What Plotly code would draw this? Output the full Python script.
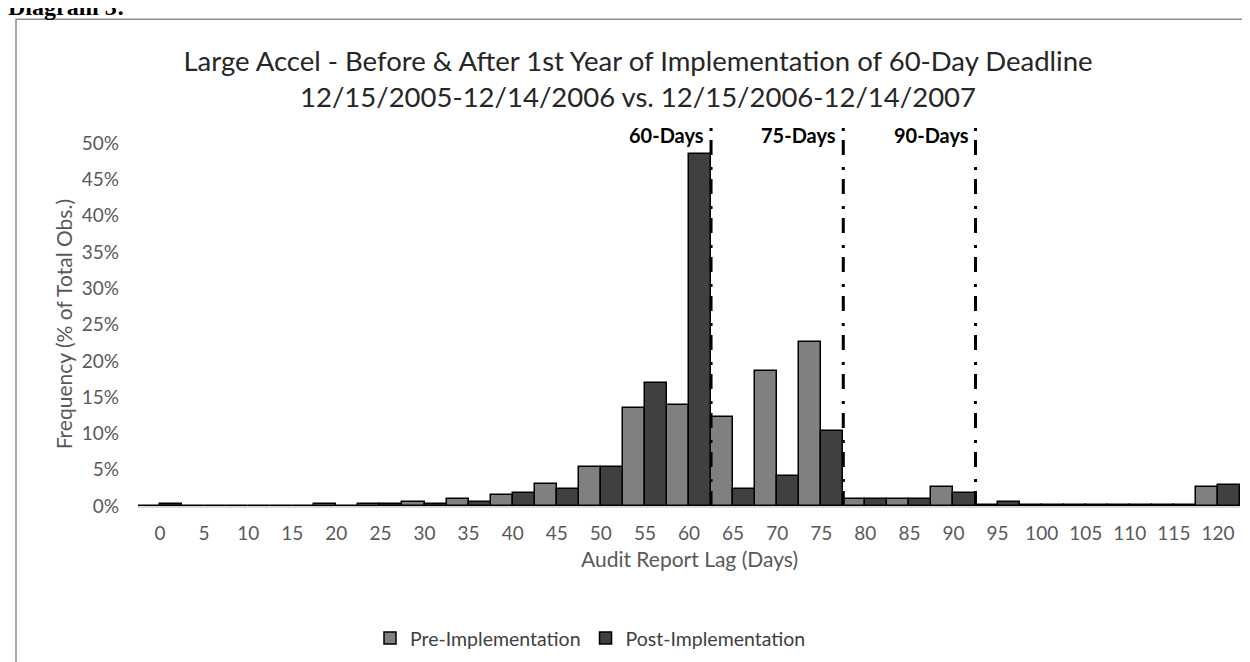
import plotly.graph_objects as go

days = list(range(0, 125, 5))
tick_labels = [str(d) for d in days]
pre = [0, 0, 0, 0, 0.3, 0.3, 0.5, 1.0, 1.5, 3.1, 5.4, 13.5, 13.9, 12.2, 18.6, 22.6,
       1.0, 1.0, 2.6, 0.2, 0.2, 0.2, 0.2, 0.2, 2.6]
post = [0.3, 0, 0, 0, 0, 0.3, 0.3, 0.5, 1.8, 2.3, 5.4, 16.9, 48.5, 2.3, 4.2, 10.4,
        1.0, 1.0, 1.8, 0.5, 0.2, 0.2, 0.2, 0.2, 2.9]
deadlines = [62.5, 77.5, 92.5]
deadline_labels = ["60-Days", "75-Days", "90-Days"]
y_ticks = list(range(0, 55, 5))
y_tick_labels = ["%d%%" % v for v in y_ticks]

W, H = 1250, 662
L, R, T, B = 130, 1232, 112, 503

def px_x(p):
    return (p - L) / (R - L)

def px_y(p):
    return (B - p) / (B - T)

FONT = "Lato"
GRAY = "#595959"

fig = go.Figure()
fig.add_trace(go.Bar(x=days, y=pre, name="Pre-Implementation",
                     marker=dict(color="#808080", line=dict(color="black", width=1.5))))
fig.add_trace(go.Bar(x=days, y=post, name="Post-Implementation",
                     marker=dict(color="#404040", line=dict(color="black", width=1.5))))

shapes = []
for d in deadlines:
    shapes.append(dict(type="line", xref="x", yref="y", x0=d, x1=d, y0=0, y1=53.2,
                       line=dict(color="black", width=3, dash="15px,9px,3px,12px")))
# outer chart border
shapes.append(dict(type="rect", xref="paper", yref="paper",
                   x0=px_x(8), x1=px_x(1245), y0=px_y(700), y1=px_y(10),
                   line=dict(color="#8c8c8c", width=1.5), fillcolor="rgba(0,0,0,0)", layer="below"))

annotations = []
for d, lab in zip(deadlines, deadline_labels):
    annotations.append(dict(x=d, y=px_y(127), xref="x", yref="paper", text="<b>%s</b>" % lab,
                            showarrow=False, xanchor="right", yanchor="middle", xshift=-5,
                            font=dict(family=FONT, size=20, color="black")))
annotations.append(dict(x=px_x(55), y=px_y(319), xref="paper", yref="paper",
                        text="Frequency (% of Total Obs.)", textangle=-90, showarrow=False,
                        xanchor="center", yanchor="middle",
                        font=dict(family=FONT, size=21, color=GRAY)))
annotations.append(dict(x=px_x(681), y=px_y(556), xref="paper", yref="paper",
                        text="Audit Report Lag (Days)", showarrow=False,
                        xanchor="center", yanchor="middle",
                        font=dict(family=FONT, size=21, color=GRAY)))
annotations.append(dict(x=px_x(-2), y=px_y(13), xref="paper", yref="paper",
                        text="<b>Diagram 3:</b>", showarrow=False, xanchor="left", yanchor="bottom",
                        font=dict(family="Liberation Serif", size=24, color="black")))

fig.update_layout(
    width=W, height=H,
    margin=dict(l=L, r=W - R, t=T, b=H - B, pad=0),
    paper_bgcolor="white", plot_bgcolor="white",
    barmode="group", bargap=0, bargroupgap=0,
    title=dict(text="Large Accel - Before & After 1st Year of Implementation of 60-Day Deadline<br>"
                    "12/15/2005-12/14/2006 vs. 12/15/2006-12/14/2007",
               xref="container", yref="container", x=630 / W, y=1 - 63 / H,
               xanchor="center", yanchor="middle",
               font=dict(family=FONT, size=27.5, color="#262626")),
    xaxis=dict(range=[-2.5, 122.5], tickvals=days, ticktext=tick_labels, showgrid=False,
               zeroline=False, showline=True, linecolor="#d9d9d9", linewidth=1.5,
               ticks="", ticklabelstandoff=9, tickfont=dict(family=FONT, size=19, color=GRAY)),
    yaxis=dict(range=[0, 53.2], tickvals=y_ticks, ticktext=y_tick_labels, showgrid=False,
               zeroline=False, showline=False, ticks="", ticklabelstandoff=18,
               tickfont=dict(family=FONT, size=19, color=GRAY)),
    legend=dict(orientation="h", x=px_x(362), y=px_y(637), xanchor="left", yanchor="middle",
                font=dict(family=FONT, size=19.5, color="#404040"), traceorder="normal"),
    shapes=shapes, annotations=annotations,
)

fig.write_html("out.html")
